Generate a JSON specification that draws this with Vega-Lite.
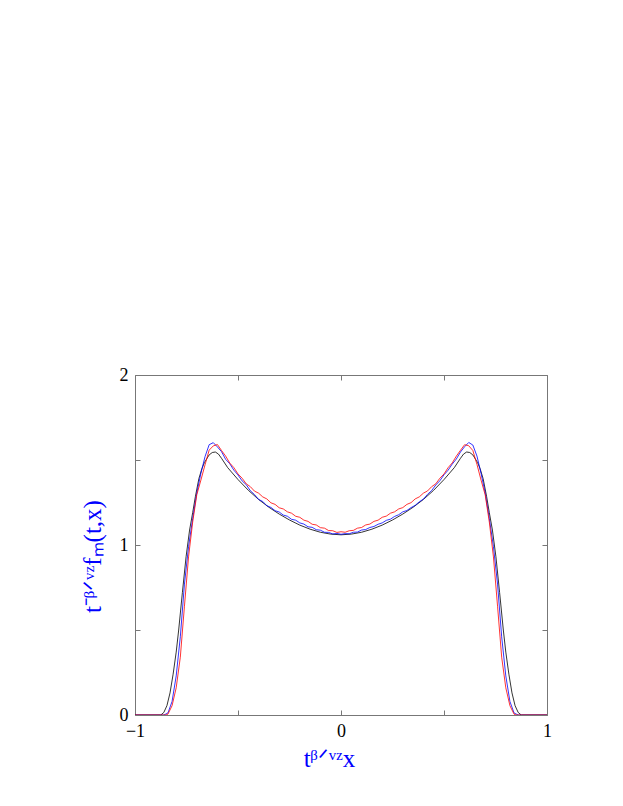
{
  "$schema": "https://vega.github.io/schema/vega-lite/v6.json",
  "width": 412,
  "height": 340,
  "autosize": {"type": "none"},
  "padding": {"left": 135, "top": 375, "right": 76, "bottom": 91},
  "background": "white",
  "config": {
    "view": {"stroke": null},
    "axis": {
      "grid": false,
      "domainColor": "#777777",
      "tickColor": "#777777",
      "tickSize": -5,
      "labelFont": "Liberation Serif",
      "labelFontSize": 18,
      "labelColor": "#000000",
      "labelFlush": false,
      "labelOverlap": false,
      "titleFont": "Liberation Serif",
      "titleFontWeight": "normal",
      "titleColor": "#0000ff",
      "titleFontSize": 25
    }
  },
  "data": {
    "values": [
      {"s": "theory", "x": -1.0, "y": 0},
      {"s": "theory", "x": -0.875, "y": 0},
      {"s": "theory", "x": -0.86, "y": 0.015},
      {"s": "theory", "x": -0.845, "y": 0.055},
      {"s": "theory", "x": -0.83, "y": 0.13},
      {"s": "theory", "x": -0.815, "y": 0.24},
      {"s": "theory", "x": -0.8, "y": 0.37},
      {"s": "theory", "x": -0.788, "y": 0.5},
      {"s": "theory", "x": -0.77, "y": 0.72},
      {"s": "theory", "x": -0.752, "y": 0.931},
      {"s": "theory", "x": -0.735, "y": 1.088},
      {"s": "theory", "x": -0.72, "y": 1.19},
      {"s": "theory", "x": -0.707, "y": 1.284},
      {"s": "theory", "x": -0.69, "y": 1.39},
      {"s": "theory", "x": -0.675, "y": 1.45},
      {"s": "theory", "x": -0.663, "y": 1.485},
      {"s": "theory", "x": -0.64, "y": 1.53},
      {"s": "theory", "x": -0.625, "y": 1.544},
      {"s": "theory", "x": -0.61, "y": 1.547},
      {"s": "theory", "x": -0.595, "y": 1.535},
      {"s": "theory", "x": -0.58, "y": 1.51},
      {"s": "theory", "x": -0.55, "y": 1.455},
      {"s": "theory", "x": -0.5, "y": 1.385},
      {"s": "theory", "x": -0.45, "y": 1.322},
      {"s": "theory", "x": -0.4, "y": 1.268},
      {"s": "theory", "x": -0.35, "y": 1.222},
      {"s": "theory", "x": -0.3, "y": 1.182},
      {"s": "theory", "x": -0.25, "y": 1.147},
      {"s": "theory", "x": -0.2, "y": 1.117},
      {"s": "theory", "x": -0.15, "y": 1.093},
      {"s": "theory", "x": -0.1, "y": 1.075},
      {"s": "theory", "x": -0.05, "y": 1.064},
      {"s": "theory", "x": 0.0, "y": 1.06},
      {"s": "theory", "x": 0.05, "y": 1.064},
      {"s": "theory", "x": 0.1, "y": 1.075},
      {"s": "theory", "x": 0.15, "y": 1.093},
      {"s": "theory", "x": 0.2, "y": 1.117},
      {"s": "theory", "x": 0.25, "y": 1.147},
      {"s": "theory", "x": 0.3, "y": 1.182},
      {"s": "theory", "x": 0.35, "y": 1.222},
      {"s": "theory", "x": 0.4, "y": 1.268},
      {"s": "theory", "x": 0.45, "y": 1.322},
      {"s": "theory", "x": 0.5, "y": 1.385},
      {"s": "theory", "x": 0.55, "y": 1.455},
      {"s": "theory", "x": 0.58, "y": 1.51},
      {"s": "theory", "x": 0.595, "y": 1.535},
      {"s": "theory", "x": 0.61, "y": 1.547},
      {"s": "theory", "x": 0.625, "y": 1.544},
      {"s": "theory", "x": 0.64, "y": 1.53},
      {"s": "theory", "x": 0.663, "y": 1.485},
      {"s": "theory", "x": 0.675, "y": 1.45},
      {"s": "theory", "x": 0.69, "y": 1.39},
      {"s": "theory", "x": 0.707, "y": 1.284},
      {"s": "theory", "x": 0.72, "y": 1.19},
      {"s": "theory", "x": 0.735, "y": 1.088},
      {"s": "theory", "x": 0.752, "y": 0.931},
      {"s": "theory", "x": 0.77, "y": 0.72},
      {"s": "theory", "x": 0.788, "y": 0.5},
      {"s": "theory", "x": 0.8, "y": 0.37},
      {"s": "theory", "x": 0.815, "y": 0.24},
      {"s": "theory", "x": 0.83, "y": 0.13},
      {"s": "theory", "x": 0.845, "y": 0.055},
      {"s": "theory", "x": 0.86, "y": 0.015},
      {"s": "theory", "x": 0.875, "y": 0},
      {"s": "theory", "x": 1.0, "y": 0},

      {"s": "blue", "x": -1.0, "y": 0},
      {"s": "blue", "x": -0.86, "y": 0},
      {"s": "blue", "x": -0.84, "y": 0.012},
      {"s": "blue", "x": -0.82, "y": 0.08},
      {"s": "blue", "x": -0.8, "y": 0.23},
      {"s": "blue", "x": -0.78, "y": 0.46},
      {"s": "blue", "x": -0.76, "y": 0.77},
      {"s": "blue", "x": -0.74, "y": 0.99},
      {"s": "blue", "x": -0.72, "y": 1.156},
      {"s": "blue", "x": -0.7, "y": 1.306},
      {"s": "blue", "x": -0.68, "y": 1.422},
      {"s": "blue", "x": -0.66, "y": 1.52},
      {"s": "blue", "x": -0.64, "y": 1.59},
      {"s": "blue", "x": -0.62, "y": 1.602},
      {"s": "blue", "x": -0.6, "y": 1.577},
      {"s": "blue", "x": -0.58, "y": 1.549},
      {"s": "blue", "x": -0.56, "y": 1.504},
      {"s": "blue", "x": -0.54, "y": 1.478},
      {"s": "blue", "x": -0.52, "y": 1.44},
      {"s": "blue", "x": -0.5, "y": 1.412},
      {"s": "blue", "x": -0.48, "y": 1.377},
      {"s": "blue", "x": -0.46, "y": 1.355},
      {"s": "blue", "x": -0.44, "y": 1.319},
      {"s": "blue", "x": -0.42, "y": 1.297},
      {"s": "blue", "x": -0.4, "y": 1.268},
      {"s": "blue", "x": -0.38, "y": 1.256},
      {"s": "blue", "x": -0.36, "y": 1.231},
      {"s": "blue", "x": -0.34, "y": 1.221},
      {"s": "blue", "x": -0.32, "y": 1.202},
      {"s": "blue", "x": -0.3, "y": 1.194},
      {"s": "blue", "x": -0.28, "y": 1.176},
      {"s": "blue", "x": -0.26, "y": 1.169},
      {"s": "blue", "x": -0.24, "y": 1.151},
      {"s": "blue", "x": -0.22, "y": 1.146},
      {"s": "blue", "x": -0.2, "y": 1.13},
      {"s": "blue", "x": -0.18, "y": 1.123},
      {"s": "blue", "x": -0.16, "y": 1.107},
      {"s": "blue", "x": -0.14, "y": 1.104},
      {"s": "blue", "x": -0.12, "y": 1.09},
      {"s": "blue", "x": -0.1, "y": 1.087},
      {"s": "blue", "x": -0.08, "y": 1.075},
      {"s": "blue", "x": -0.06, "y": 1.074},
      {"s": "blue", "x": -0.04, "y": 1.065},
      {"s": "blue", "x": -0.02, "y": 1.068},
      {"s": "blue", "x": 0.0, "y": 1.063},
      {"s": "blue", "x": 0.02, "y": 1.067},
      {"s": "blue", "x": 0.04, "y": 1.066},
      {"s": "blue", "x": 0.06, "y": 1.075},
      {"s": "blue", "x": 0.08, "y": 1.076},
      {"s": "blue", "x": 0.1, "y": 1.088},
      {"s": "blue", "x": 0.12, "y": 1.091},
      {"s": "blue", "x": 0.14, "y": 1.103},
      {"s": "blue", "x": 0.16, "y": 1.109},
      {"s": "blue", "x": 0.18, "y": 1.122},
      {"s": "blue", "x": 0.2, "y": 1.13},
      {"s": "blue", "x": 0.22, "y": 1.145},
      {"s": "blue", "x": 0.24, "y": 1.152},
      {"s": "blue", "x": 0.26, "y": 1.168},
      {"s": "blue", "x": 0.28, "y": 1.178},
      {"s": "blue", "x": 0.3, "y": 1.195},
      {"s": "blue", "x": 0.32, "y": 1.203},
      {"s": "blue", "x": 0.34, "y": 1.22},
      {"s": "blue", "x": 0.36, "y": 1.233},
      {"s": "blue", "x": 0.38, "y": 1.254},
      {"s": "blue", "x": 0.4, "y": 1.27},
      {"s": "blue", "x": 0.42, "y": 1.298},
      {"s": "blue", "x": 0.44, "y": 1.32},
      {"s": "blue", "x": 0.46, "y": 1.353},
      {"s": "blue", "x": 0.48, "y": 1.378},
      {"s": "blue", "x": 0.5, "y": 1.413},
      {"s": "blue", "x": 0.52, "y": 1.44},
      {"s": "blue", "x": 0.54, "y": 1.476},
      {"s": "blue", "x": 0.56, "y": 1.506},
      {"s": "blue", "x": 0.58, "y": 1.547},
      {"s": "blue", "x": 0.6, "y": 1.578},
      {"s": "blue", "x": 0.62, "y": 1.603},
      {"s": "blue", "x": 0.64, "y": 1.588},
      {"s": "blue", "x": 0.66, "y": 1.523},
      {"s": "blue", "x": 0.68, "y": 1.42},
      {"s": "blue", "x": 0.7, "y": 1.306},
      {"s": "blue", "x": 0.72, "y": 1.156},
      {"s": "blue", "x": 0.74, "y": 0.99},
      {"s": "blue", "x": 0.76, "y": 0.77},
      {"s": "blue", "x": 0.78, "y": 0.46},
      {"s": "blue", "x": 0.8, "y": 0.23},
      {"s": "blue", "x": 0.82, "y": 0.08},
      {"s": "blue", "x": 0.84, "y": 0.012},
      {"s": "blue", "x": 0.86, "y": 0},
      {"s": "blue", "x": 1.0, "y": 0},

      {"s": "red", "x": -1.0, "y": 0},
      {"s": "red", "x": -0.85, "y": 0},
      {"s": "red", "x": -0.84, "y": 0.005},
      {"s": "red", "x": -0.82, "y": 0.055},
      {"s": "red", "x": -0.8, "y": 0.16},
      {"s": "red", "x": -0.78, "y": 0.34},
      {"s": "red", "x": -0.76, "y": 0.64},
      {"s": "red", "x": -0.74, "y": 0.93},
      {"s": "red", "x": -0.72, "y": 1.135},
      {"s": "red", "x": -0.7, "y": 1.296},
      {"s": "red", "x": -0.68, "y": 1.382},
      {"s": "red", "x": -0.66, "y": 1.472},
      {"s": "red", "x": -0.64, "y": 1.558},
      {"s": "red", "x": -0.62, "y": 1.583},
      {"s": "red", "x": -0.6, "y": 1.591},
      {"s": "red", "x": -0.58, "y": 1.556},
      {"s": "red", "x": -0.56, "y": 1.523},
      {"s": "red", "x": -0.54, "y": 1.482},
      {"s": "red", "x": -0.52, "y": 1.455},
      {"s": "red", "x": -0.5, "y": 1.418},
      {"s": "red", "x": -0.48, "y": 1.393},
      {"s": "red", "x": -0.46, "y": 1.36},
      {"s": "red", "x": -0.44, "y": 1.343},
      {"s": "red", "x": -0.42, "y": 1.317},
      {"s": "red", "x": -0.4, "y": 1.305},
      {"s": "red", "x": -0.38, "y": 1.283},
      {"s": "red", "x": -0.36, "y": 1.271},
      {"s": "red", "x": -0.34, "y": 1.248},
      {"s": "red", "x": -0.32, "y": 1.239},
      {"s": "red", "x": -0.3, "y": 1.219},
      {"s": "red", "x": -0.28, "y": 1.212},
      {"s": "red", "x": -0.26, "y": 1.195},
      {"s": "red", "x": -0.24, "y": 1.187},
      {"s": "red", "x": -0.22, "y": 1.169},
      {"s": "red", "x": -0.2, "y": 1.163},
      {"s": "red", "x": -0.18, "y": 1.146},
      {"s": "red", "x": -0.16, "y": 1.139},
      {"s": "red", "x": -0.14, "y": 1.122},
      {"s": "red", "x": -0.12, "y": 1.118},
      {"s": "red", "x": -0.1, "y": 1.102},
      {"s": "red", "x": -0.08, "y": 1.099},
      {"s": "red", "x": -0.06, "y": 1.085},
      {"s": "red", "x": -0.04, "y": 1.084},
      {"s": "red", "x": -0.02, "y": 1.074},
      {"s": "red", "x": 0.0, "y": 1.078},
      {"s": "red", "x": 0.02, "y": 1.075},
      {"s": "red", "x": 0.04, "y": 1.084},
      {"s": "red", "x": 0.06, "y": 1.086},
      {"s": "red", "x": 0.08, "y": 1.099},
      {"s": "red", "x": 0.1, "y": 1.103},
      {"s": "red", "x": 0.12, "y": 1.118},
      {"s": "red", "x": 0.14, "y": 1.123},
      {"s": "red", "x": 0.16, "y": 1.139},
      {"s": "red", "x": 0.18, "y": 1.146},
      {"s": "red", "x": 0.2, "y": 1.163},
      {"s": "red", "x": 0.22, "y": 1.17},
      {"s": "red", "x": 0.24, "y": 1.187},
      {"s": "red", "x": 0.26, "y": 1.195},
      {"s": "red", "x": 0.28, "y": 1.212},
      {"s": "red", "x": 0.3, "y": 1.22},
      {"s": "red", "x": 0.32, "y": 1.239},
      {"s": "red", "x": 0.34, "y": 1.249},
      {"s": "red", "x": 0.36, "y": 1.271},
      {"s": "red", "x": 0.38, "y": 1.283},
      {"s": "red", "x": 0.4, "y": 1.305},
      {"s": "red", "x": 0.42, "y": 1.318},
      {"s": "red", "x": 0.44, "y": 1.343},
      {"s": "red", "x": 0.46, "y": 1.36},
      {"s": "red", "x": 0.48, "y": 1.393},
      {"s": "red", "x": 0.5, "y": 1.418},
      {"s": "red", "x": 0.52, "y": 1.455},
      {"s": "red", "x": 0.54, "y": 1.483},
      {"s": "red", "x": 0.56, "y": 1.523},
      {"s": "red", "x": 0.58, "y": 1.557},
      {"s": "red", "x": 0.6, "y": 1.59},
      {"s": "red", "x": 0.62, "y": 1.584},
      {"s": "red", "x": 0.64, "y": 1.556},
      {"s": "red", "x": 0.66, "y": 1.474},
      {"s": "red", "x": 0.68, "y": 1.381},
      {"s": "red", "x": 0.7, "y": 1.295},
      {"s": "red", "x": 0.72, "y": 1.135},
      {"s": "red", "x": 0.74, "y": 0.93},
      {"s": "red", "x": 0.76, "y": 0.64},
      {"s": "red", "x": 0.78, "y": 0.34},
      {"s": "red", "x": 0.8, "y": 0.16},
      {"s": "red", "x": 0.82, "y": 0.055},
      {"s": "red", "x": 0.84, "y": 0.005},
      {"s": "red", "x": 0.85, "y": 0},
      {"s": "red", "x": 1.0, "y": 0}
    ]
  },
  "layer": [
    {
      "mark": {"type": "line", "strokeWidth": 0.8, "clip": true},
      "encoding": {
        "x": {
          "field": "x", "type": "quantitative",
          "scale": {"domain": [-1, 1], "nice": false, "zero": false},
          "axis": {
            "orient": "bottom",
            "values": [-1, -0.5, 0, 0.5, 1],
            "format": "~g",
            "labelExpr": "abs(datum.value) == 0.5 ? '' : datum.label",
            "labelPadding": 12,
            "title": "tᵝᐟᵛᶻx",
            "titlePadding": 6,
            "titleX": 194
          }
        },
        "y": {
          "field": "y", "type": "quantitative",
          "scale": {"domain": [0, 2], "nice": false, "zero": false},
          "axis": {
            "orient": "left",
            "values": [0, 0.5, 1, 1.5, 2],
            "format": "~g",
            "labelExpr": "datum.value == 0.5 || datum.value == 1.5 ? '' : datum.label",
            "labelPadding": 12,
            "title": "t⁻ᵝᐟᵛᶻfₘ(t,x)",
            "titlePadding": 14,
            "titleY": 181
          }
        },
        "color": {
          "field": "s", "type": "nominal",
          "scale": {"domain": ["theory", "blue", "red"], "range": ["#000000", "#0000ff", "#ff0000"]},
          "legend": null
        },
        "order": {"field": "x", "type": "quantitative"}
      }
    },
    {
      "mark": {"type": "point", "opacity": 0},
      "encoding": {
        "x": {
          "field": "x", "type": "quantitative",
          "scale": {"domain": [-1, 1], "nice": false, "zero": false},
          "axis": {"orient": "top", "values": [-1, -0.5, 0, 0.5, 1], "labels": false, "title": null}
        },
        "y": {
          "field": "y", "type": "quantitative",
          "scale": {"domain": [0, 2], "nice": false, "zero": false},
          "axis": {"orient": "right", "values": [0, 0.5, 1, 1.5, 2], "labels": false, "title": null}
        }
      }
    }
  ],
  "resolve": {"axis": {"x": "independent", "y": "independent"}}
}
